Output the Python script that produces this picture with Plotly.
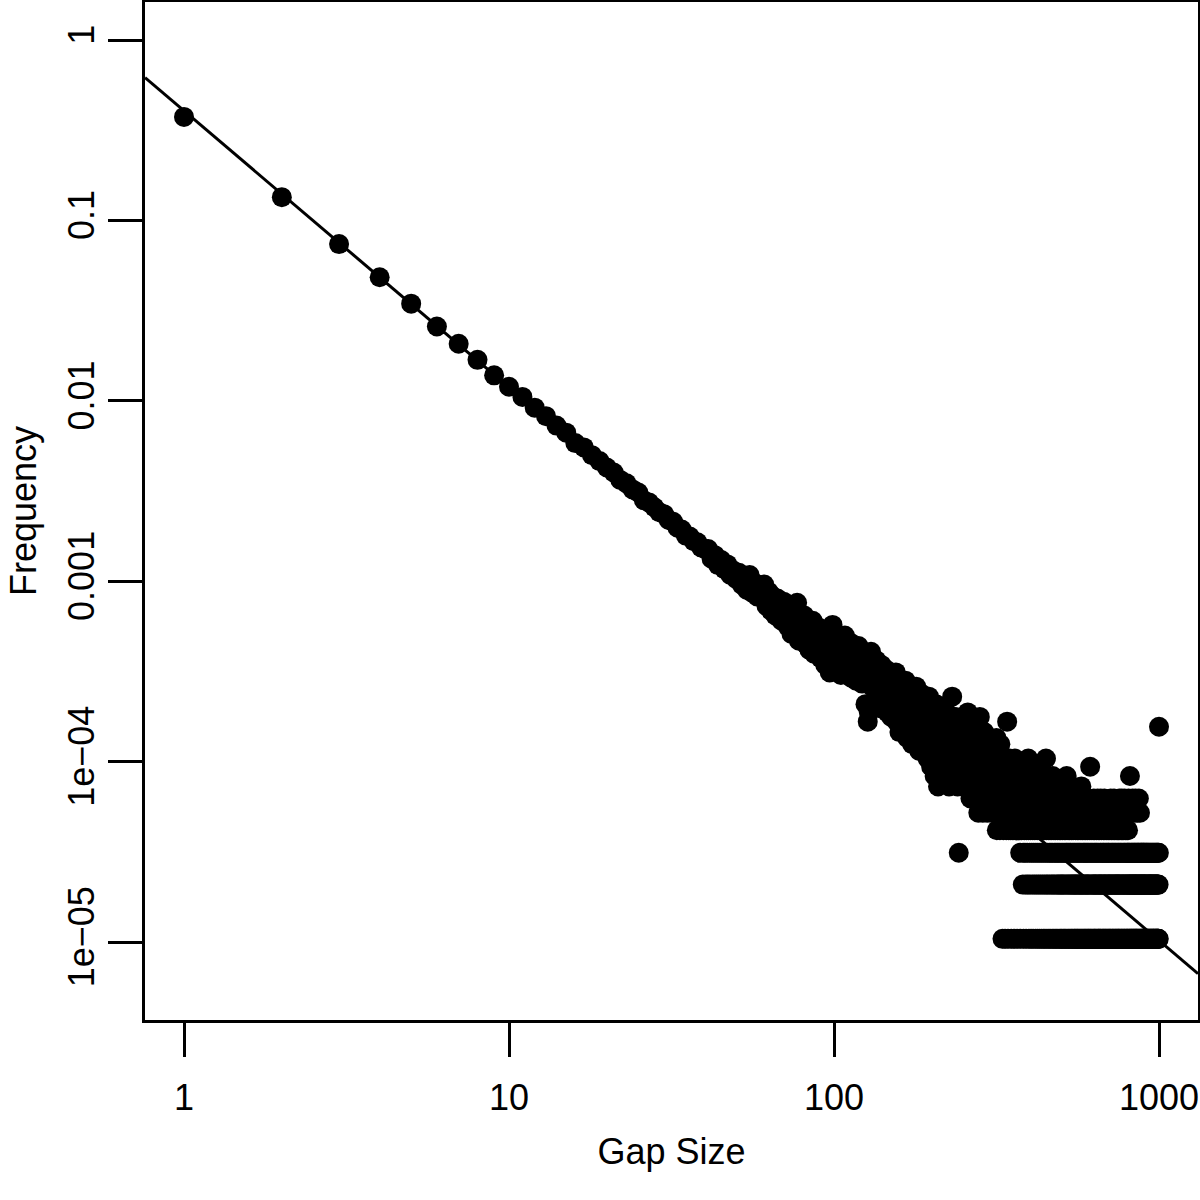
import numpy as np
import plotly.graph_objects as go

# number of gaps observed (frequency = count / total)
total_gaps = 96000

# counts per gap size, gap size 1..1000 (10 per row)
gap_counts = [
    36000, 12930, 7100, 4650, 3320, 2480, 1990, 1620, 1330, 1150,
    1010, 880, 790, 700, 640, 560, 530, 480, 445, 410,
    385, 350, 335, 310, 298, 270, 262, 247, 232, 226,
    210, 205, 190, 186, 172, 170, 160, 158, 148, 145,
    145, 128, 134, 118, 126, 112, 119, 104, 110, 99,
    107, 92, 101, 86, 104, 83, 94, 79, 90, 82,
    92, 70, 84, 66, 79, 62, 77, 71, 58, 74,
    64, 54, 70, 49, 61, 52, 73, 45, 58, 50,
    62, 43, 55, 40, 51, 58, 38, 47, 42, 53,
    36, 48, 41, 33, 45, 39, 30, 43, 55, 36,
    38, 31, 45, 35, 29, 41, 33, 48, 30, 37,
    34, 44, 28, 36, 31, 40, 27, 35, 42, 30,
    33, 26, 38, 29, 20, 35, 16, 18, 27, 39,
    25, 32, 21, 28, 35, 23, 30, 19, 27, 33,
    24, 29, 20, 26, 31, 18, 25, 22, 28, 17,
    23, 27, 19, 21, 30, 16, 24, 20, 14, 26,
    22, 18, 25, 15, 20, 27, 17, 13, 23, 19,
    21, 16, 24, 12, 19, 17, 22, 14, 25, 18,
    15, 20, 11, 17, 23, 14, 19, 16, 21, 12,
    18, 15, 20, 10, 16, 22, 13, 17, 9, 14,
    19, 12, 16, 8, 14, 20, 11, 15, 7, 13,
    17, 10, 14, 19, 9, 12, 16, 8, 13, 11,
    15, 18, 9, 12, 14, 7, 11, 16, 10, 13,
    22, 9, 12, 15, 8, 11, 17, 10, 13, 7,
    12, 3, 14, 9, 11, 16, 8, 13, 10, 7,
    12, 15, 9, 11, 7, 13, 10, 18, 8, 12,
    9, 14, 6, 11, 10, 13, 8, 16, 7, 10,
    12, 9, 6, 11, 14, 8, 10, 5, 13, 9,
    17, 7, 10, 12, 6, 9, 5, 11, 8, 14,
    7, 10, 6, 12, 9, 5, 11, 8, 13, 6,
    9, 6, 11, 7, 5, 10, 8, 12, 6, 9,
    7, 5, 11, 8, 6, 13, 4, 9, 7, 5,
    10, 6, 8, 4, 12, 7, 5, 9, 6, 1,
    8, 4, 10, 6, 5, 1, 7, 9, 4, 6,
    16, 5, 1, 8, 4, 7, 10, 5, 6, 4,
    1, 8, 5, 9, 4, 6, 7, 1, 5, 10,
    4, 6, 8, 5, 4, 1, 7, 9, 5, 4,
    6, 8, 4, 3, 1, 5, 7, 4, 9, 6,
    2, 3, 1, 5, 4, 8, 3, 6, 2, 1,
    4, 7, 3, 5, 2, 10, 4, 1, 6, 3,
    2, 5, 4, 1, 7, 3, 6, 2, 4, 1,
    5, 3, 8, 2, 4, 6, 1, 3, 5, 2,
    9, 4, 1, 3, 6, 2, 5, 4, 1, 3,
    7, 2, 4, 6, 1, 3, 5, 2, 4, 8,
    1, 3, 6, 2, 4, 1, 5, 3, 10, 2,
    4, 1, 6, 3, 2, 5, 4, 1, 7, 3,
    2, 4, 1, 6, 3, 5, 2, 4, 1, 3,
    8, 2, 5, 1, 4, 3, 2, 6, 1, 4,
    3, 5, 2, 1, 7, 3, 4, 2, 1, 5,
    3, 2, 4, 6, 1, 3, 2, 4, 1, 5,
    2, 3, 1, 4, 2, 6, 3, 1, 2, 5,
    4, 1, 3, 2, 7, 1, 4, 3, 2, 8,
    1, 3, 5, 2, 4, 1, 3, 2, 6, 1,
    4, 3, 2, 5, 1, 3, 2, 4, 1, 7,
    2, 3, 1, 4, 2, 5, 3, 1, 2, 6,
    1, 3, 2, 4, 1, 2, 5, 3, 1, 2,
    4, 1, 3, 6, 2, 1, 4, 3, 2, 1,
    5, 2, 3, 1, 4, 2, 7, 1, 3, 2,
    4, 1, 2, 5, 3, 1, 2, 4, 3, 1,
    6, 2, 1, 3, 4, 2, 1, 5, 3, 2,
    1, 4, 2, 3, 1, 6, 2, 1, 3, 4,
    2, 1, 5, 9, 3, 1, 2, 4, 1, 3,
    2, 0, 5, 1, 3, 2, 4, 1, 2, 6,
    3, 1, 2, 4, 1, 3, 2, 5, 1, 2,
    3, 4, 1, 2, 0, 3, 6, 1, 2, 4,
    1, 3, 2, 1, 5, 2, 4, 1, 3, 2,
    1, 6, 3, 2, 1, 4, 2, 0, 3, 1,
    5, 2, 1, 3, 4, 2, 1, 3, 6, 2,
    1, 4, 2, 3, 1, 5, 2, 1, 3, 0,
    4, 2, 1, 3, 5, 2, 1, 4, 3, 2,
    1, 3, 2, 5, 1, 4, 2, 1, 3, 6,
    2, 1, 0, 4, 3, 2, 1, 5, 2, 3,
    1, 4, 2, 1, 3, 0, 6, 2, 1, 4,
    3, 2, 1, 5, 2, 3, 1, 4, 2, 0,
    1, 3, 2, 5, 1, 4, 2, 3, 1, 2,
    4, 1, 3, 2, 6, 1, 2, 4, 3, 1,
    5, 2, 0, 3, 1, 4, 2, 6, 1, 3,
    2, 1, 4, 0, 2, 5, 3, 1, 2, 4,
    1, 3, 2, 6, 1, 0, 3, 2, 4, 1,
    5, 2, 3, 1, 0, 2, 4, 1, 3, 2,
    1, 3, 4, 2, 1, 6, 3, 0, 2, 1,
    3, 2, 1, 8, 2, 3, 1, 0, 2, 5,
    1, 3, 2, 1, 0, 3, 2, 1, 6, 2,
    3, 1, 0, 2, 1, 3, 2, 5, 1, 3,
    2, 0, 1, 3, 2, 1, 6, 2, 3, 1,
    0, 2, 1, 3, 2, 1, 5, 3, 0, 2,
    1, 3, 2, 1, 0, 3, 6, 2, 1, 3,
    2, 0, 1, 5, 2, 3, 1, 2, 0, 3,
    1, 2, 3, 1, 0, 2, 3, 1, 2, 1,
    0, 3, 2, 1, 3, 0, 2, 1, 3, 2,
    1, 0, 3, 2, 1, 0, 2, 3, 1, 0,
    2, 1, 3, 0, 1, 2, 3, 1, 0, 2,
    1, 3, 0, 2, 1, 0, 3, 1, 2, 0,
    1, 3, 2, 0, 1, 2, 0, 3, 1, 2,
    0, 1, 2, 3, 0, 1, 2, 0, 1, 3,
    2, 0, 1, 2, 0, 3, 1, 0, 2, 1,
    3, 0, 1, 2, 0, 1, 3, 2, 0, 1,
    2, 0, 3, 1, 0, 2, 1, 0, 3, 1,
    2, 0, 1, 3, 2, 1, 0, 2, 3, 1,
    0, 1, 2, 3, 1, 0, 2, 1, 3, 15,
]

# fitted power law, log10(freq) = intercept + slope * log10(gap)
fit_intercept = -0.392
fit_slope = -1.533

x_ticks = [1, 10, 100, 1000]
x_ticklabels = ["1", "10", "100", "1000"]
y_ticks = [1, 0.1, 0.01, 0.001, 1e-4, 1e-5]
y_ticklabels = ["1", "0.1", "0.01", "0.001", "1e\u221204", "1e\u221205"]

x_range = [-0.12, 3.12]
y_range = [-5.432, 0.211]

counts = np.array(gap_counts, dtype=float)
gaps = np.arange(1, len(counts) + 1)
keep = counts > 0
freq = counts[keep] / total_gaps

FONT = "Liberation Sans, Arial, Helvetica, sans-serif"

fig = go.Figure()
fig.add_trace(go.Scatter(
    x=gaps[keep], y=freq, mode="markers",
    marker=dict(size=20, color="black", line=dict(width=0)),
    showlegend=False,
))

fit_x = 10 ** np.array(x_range)
fit_y = 10 ** (fit_intercept + fit_slope * np.log10(fit_x))
fig.add_trace(go.Scatter(
    x=fit_x, y=fit_y, mode="lines",
    line=dict(color="black", width=3),
    showlegend=False,
))

axis_common = dict(
    type="log", showgrid=False, zeroline=False,
    showline=True, linecolor="black", linewidth=3, mirror=True,
    ticks="outside", ticklen=34, tickwidth=3, tickcolor="black",
    tickfont=dict(family=FONT, size=36, color="black"),
)

fig.update_xaxes(
    range=x_range, tickvals=x_ticks, ticktext=x_ticklabels,
    ticklabelstandoff=10,
    title=dict(text="Gap Size", font=dict(family=FONT, size=36, color="black"), standoff=22),
    **axis_common,
)
fig.update_yaxes(
    range=y_range, tickvals=y_ticks, ticktext=y_ticklabels, tickangle=-90,
    title=dict(text="Frequency", font=dict(family=FONT, size=36, color="black"), standoff=13),
    **axis_common,
)

fig.update_layout(
    width=1200, height=1200,
    margin=dict(l=145, r=2, t=2, b=180, autoexpand=False),
    paper_bgcolor="white", plot_bgcolor="white",
    font=dict(family=FONT, color="black"),
)

# drop the default page margin so the figure sits at the window's corner
fig.write_html(
    "out.html",
    config={"displayModeBar": False},
    post_script="document.body.style.margin='0';",
)
